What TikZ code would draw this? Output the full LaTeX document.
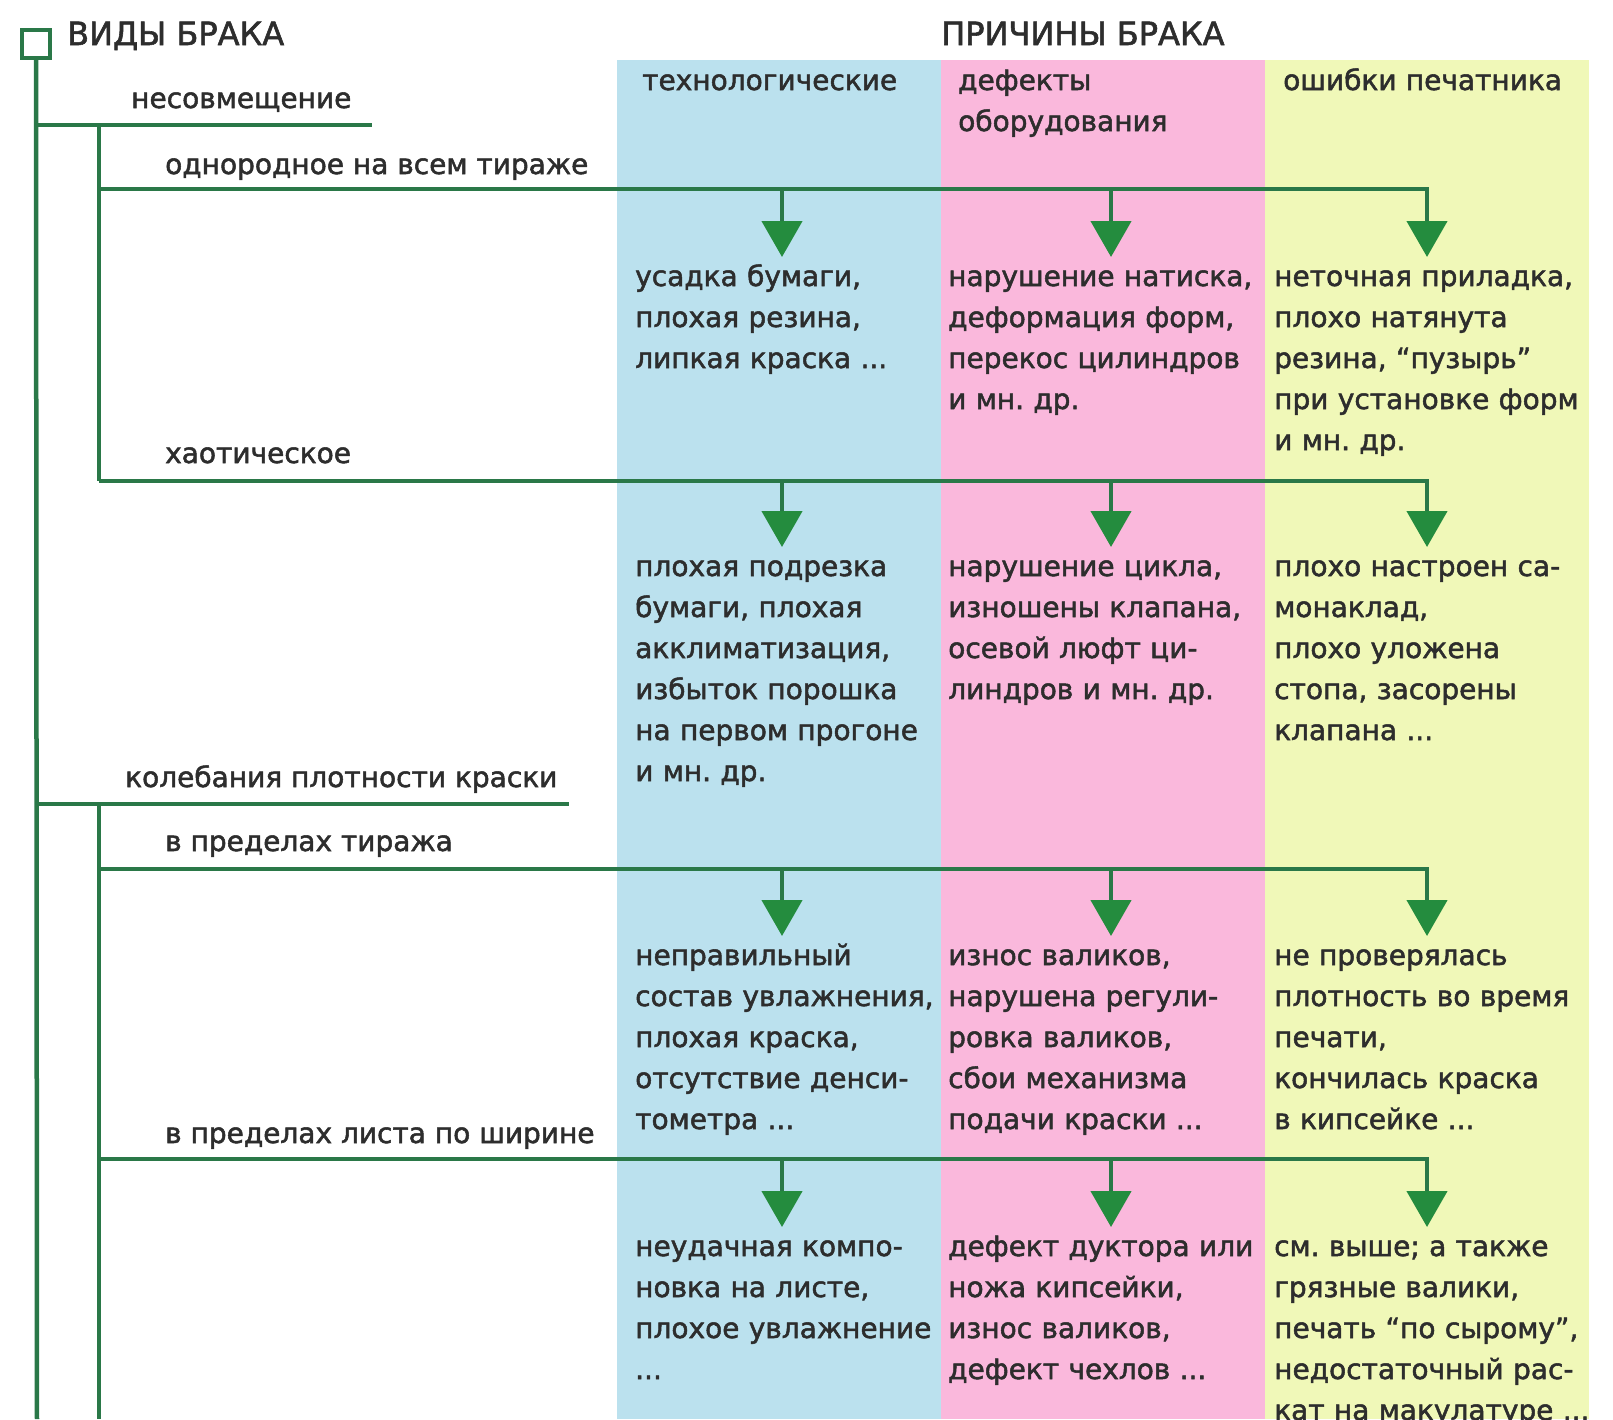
\documentclass[tikz,border=0pt]{standalone}
\usepackage{fontspec}
\setmainfont{DejaVu Sans}
\newfontfamily\diagfont[FakeBold=1.8]{DejaVu Sans}
\usetikzlibrary{arrows.meta}
\definecolor{treegreen}{RGB}{42,120,72}
\definecolor{arrowgreen}{RGB}{36,140,62}
\definecolor{techblue}{RGB}{187,225,238}
\definecolor{defpink}{RGB}{250,184,220}
\definecolor{erryellow}{RGB}{240,248,184}
\definecolor{inkgray}{RGB}{45,45,45}
\frenchspacing

\begin{document}
\begin{tikzpicture}[x=1pt,y=-1pt,
treeline/.style={draw=treegreen,line width=4.5pt},
causearrow/.style={draw=treegreen,line width=4.5pt,-{Triangle[width=40pt,length=36pt,color=arrowgreen]}},
kind/.style={anchor=base west,inner sep=0pt,font=\diagfont\fontsize{28}{34}\selectfont,text=inkgray},
cause/.style={anchor=base west,inner sep=0pt,text width=340pt,align=left,font=\diagfont\fontsize{28}{41}\selectfont,text=inkgray},
head/.style={anchor=base west,inner sep=0pt,font=\diagfont\fontsize{32}{38}\selectfont,text=inkgray}]

\useasboundingbox (0,0) rectangle (1613,1419);
\clip (0,0) rectangle (1613,1419);

% colour bands
\fill[techblue] (617,60) rectangle (941,1419);
\fill[defpink] (941,60) rectangle (1265,1419);
\fill[erryellow] (1265,60) rectangle (1589,1419);

% column centres
\coordinate (c1) at (782,0);
\coordinate (c2) at (1111,0);
\coordinate (c3) at (1427,0);

% headings
\node[draw=treegreen,line width=4pt,minimum size=28pt,inner sep=0pt] (sq) at (36,44) {};
\node[head] (vidy) at (67,45) {ВИДЫ БРАКА};
\node[head] (prichiny) at (941,45) {ПРИЧИНЫ БРАКА};
\node[cause] (h1) at (642,90) {технологические};
\node[cause] (h2) at (958,90) {дефекты\\оборудования};
\node[cause] (h3) at (1283,90) {ошибки печатника};

% kinds of defects
\node[kind] (k1) at (131,108) {несовмещение};
\node[kind] (k11) at (165,174) {однородное на всем тираже};
\node[kind] (k12) at (165,463) {хаотическое};
\node[kind] (k2) at (125,787) {колебания плотности краски};
\node[kind] (k21) at (165,851) {в пределах тиража};
\node[kind] (k22) at (165,1143) {в пределах листа по ширине};

% causes
\node[cause] (t11) at (635,286) {усадка бумаги,\\плохая резина,\\липкая краска ...};
\node[cause] (t12) at (948,286) {нарушение натиска,\\деформация форм,\\перекос цилиндров\\и мн. др.};
\node[cause] (t13) at (1274,286) {неточная приладка,\\плохо натянута\\резина, “пузырь”\\при установке форм\\и мн. др.};

\node[cause] (t21) at (635,576) {плохая подрезка\\бумаги, плохая\\акклиматизация,\\избыток порошка\\на первом прогоне\\и мн. др.};
\node[cause] (t22) at (948,576) {нарушение цикла,\\изношены клапана,\\осевой люфт ци-\\линдров и мн. др.};
\node[cause] (t23) at (1274,576) {плохо настроен са-\\монаклад,\\плохо уложена\\стопа, засорены\\клапана ...};

\node[cause] (t31) at (635,965) {неправильный\\состав увлажнения,\\плохая краска,\\отсутствие денси-\\тометра ...};
\node[cause] (t32) at (948,965) {износ валиков,\\нарушена регули-\\ровка валиков,\\сбои механизма\\подачи краски ...};
\node[cause] (t33) at (1274,965) {не проверялась\\плотность во время\\печати,\\кончилась краска\\в кипсейке ...};

\node[cause] (t41) at (635,1256) {неудачная компо-\\новка на листе,\\плохое увлажнение\\...};
\node[cause] (t42) at (948,1256) {дефект дуктора или\\ножа кипсейки,\\износ валиков,\\дефект чехлов ...};
\node[cause] (t43) at (1274,1256) {см. выше; а также\\грязные валики,\\печать “по сырому”,\\недостаточный рас-\\кат на макулатуре ...};

% tree
\coordinate (trunk) at (37,1419);
\coordinate (b1) at (37,125);
\coordinate (b1end) at (372,125);
\coordinate (b1top) at (99,125);
\coordinate (b1bot) at (99,481);
\coordinate (b2) at (37,804);
\coordinate (b2end) at (569,804);
\coordinate (b2top) at (99,804);
\coordinate (b2bot) at (99,1419);
\coordinate (r1) at (99,189);
\coordinate (r2) at (99,481);
\coordinate (r3) at (99,869);
\coordinate (r4) at (99,1159);

\draw[treeline] (sq.south) -- (trunk);
\draw[treeline] (b1) -- (b1end);
\draw[treeline] (b1top) -- (b1bot);
\draw[treeline] (b2) -- (b2end);
\draw[treeline] (b2top) -- (b2bot);

% rows with arrows down to the causes
\draw[causearrow] (r1) -- (c3 |- r1) -- ([yshift=29pt]c3 |- t13.base);
\draw[causearrow] (c1 |- r1) -- ([yshift=29pt]c1 |- t11.base);
\draw[causearrow] (c2 |- r1) -- ([yshift=29pt]c2 |- t12.base);

\draw[causearrow] (r2) -- (c3 |- r2) -- ([yshift=29pt]c3 |- t23.base);
\draw[causearrow] (c1 |- r2) -- ([yshift=29pt]c1 |- t21.base);
\draw[causearrow] (c2 |- r2) -- ([yshift=29pt]c2 |- t22.base);

\draw[causearrow] (r3) -- (c3 |- r3) -- ([yshift=29pt]c3 |- t33.base);
\draw[causearrow] (c1 |- r3) -- ([yshift=29pt]c1 |- t31.base);
\draw[causearrow] (c2 |- r3) -- ([yshift=29pt]c2 |- t32.base);

\draw[causearrow] (r4) -- (c3 |- r4) -- ([yshift=29pt]c3 |- t43.base);
\draw[causearrow] (c1 |- r4) -- ([yshift=29pt]c1 |- t41.base);
\draw[causearrow] (c2 |- r4) -- ([yshift=29pt]c2 |- t42.base);

\end{tikzpicture}
\end{document}
